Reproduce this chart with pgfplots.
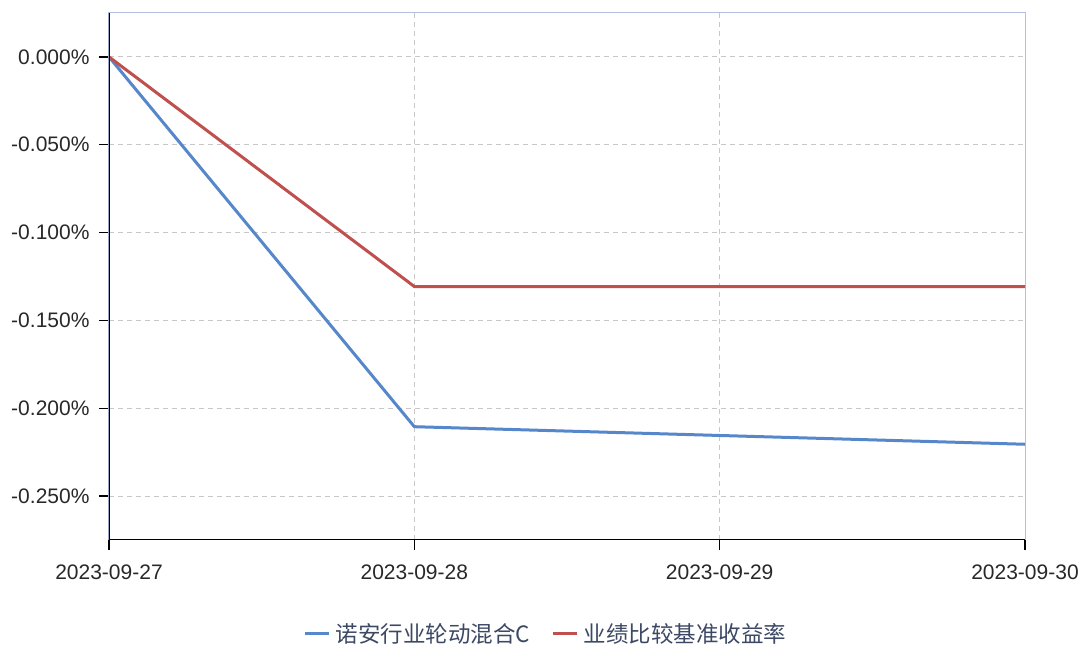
\documentclass[border=0pt]{standalone}
\usepackage{pgfplots}
\pgfplotsset{compat=1.18}
\usepackage{fontspec}
\setmainfont{Liberation Sans}
\newfontfamily\cjk{Noto Sans CJK SC}
\definecolor{cblue}{RGB}{86,135,202}
\definecolor{cred}{RGB}{192,80,77}
\definecolor{borderblue}{RGB}{176,192,222}
\definecolor{legtext}{RGB}{60,72,100}
\definecolor{ticktext}{RGB}{40,40,40}
\begin{document}
\begin{tikzpicture}
\path[use as bounding box] (-109pt,-105pt) rectangle (976pt,540pt);
\begin{axis}[
  at={(0pt,0pt)}, anchor=south west,
  scale only axis, width=916pt, height=527pt,
  xmin=0, xmax=3, ymin=-0.275, ymax=0.025,
  xtick={0,1,2,3},
  xticklabels={2023-09-27,2023-09-28,2023-09-29,2023-09-30},
  ytick={-0.25,-0.2,-0.15,-0.1,-0.05,0},
  yticklabels={-0.250\%,-0.200\%,-0.150\%,-0.100\%,-0.050\%,0.000\%},
  xtick pos=bottom, ytick pos=left,
  tick align=outside, major tick length=10pt,
  tick style={black, line width=1.2pt},
  ticklabel style={font=\fontsize{21}{25}\selectfont, text=ticktext},
  xticklabel style={yshift=-11pt},
  yticklabel style={xshift=-6pt},
  grid=major,
  major grid style={draw=black!22, dash pattern=on 5pt off 4pt, line width=0.9pt},
  axis line style={draw=borderblue, line width=1pt},
  legend columns=2,
  legend style={at={(0.477,-0.178)}, anchor=center, draw=none, fill=none,
    font=\cjk\fontsize{22.5}{26}\selectfont, text=legtext,
    /tikz/every even column/.append style={column sep=20pt},
    /tikz/every odd column/.append style={column sep=3pt}},
  legend image code/.code={\draw[#1, line width=3pt] (0pt,0pt) -- (24pt,0pt);},
]
\addplot[cblue, line width=3pt] coordinates {(0,0) (1,-0.2105) (2,-0.2155) (3,-0.2205)};
\addlegendentry{诺安行业轮动混合C}
\addplot[cred, line width=3pt] coordinates {(0,0) (1,-0.1307) (2,-0.1307) (3,-0.1307)};
\addlegendentry{业绩比较基准收益率}
\draw[black, line width=1.5pt] (rel axis cs:0,1) -- (rel axis cs:0,0) -- (rel axis cs:1,0);
\end{axis}
\end{tikzpicture}
\end{document}
